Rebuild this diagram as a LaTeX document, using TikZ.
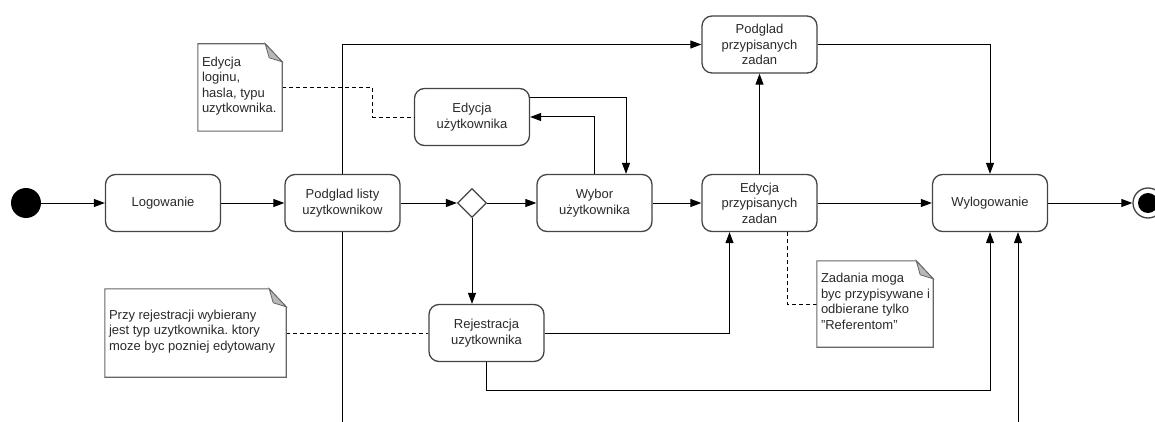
\documentclass[tikz,border=0pt]{standalone}
\usepackage{fontspec}
\setmainfont{Liberation Sans}
\usetikzlibrary{arrows.meta,shapes.geometric,calc}
\frenchspacing

\definecolor{boxline}{HTML}{444444}
\definecolor{noteline}{HTML}{666666}
\definecolor{notefold}{HTML}{B8B8B8}
\definecolor{txt}{HTML}{2A2A2A}

\tikzset{
  state/.style={draw=boxline, line width=1.3pt, rounded corners=10pt, fill=white,
    minimum width=115pt, minimum height=57pt, align=center, text=txt,
    inner sep=2pt, font=\fontsize{13}{15.5}\selectfont},
  choice/.style={draw=boxline, line width=1.2pt, diamond, fill=white,
    minimum width=29pt, minimum height=29pt, inner sep=0pt},
  notebox/.style={inner sep=0pt},
  notetext/.style={anchor=west, inner xsep=4pt, inner ysep=0pt, align=left,
    text=txt, font=\fontsize{13}{15.5}\selectfont},
  flow/.style={draw=black, line width=1pt, -{Triangle[length=11pt,width=8pt]}},
  wire/.style={draw=black, line width=1pt},
  anchorline/.style={draw=black, line width=0.9pt, dash pattern=on 4pt off 3pt},
  initial/.style={circle, fill=black, minimum size=30pt, inner sep=0pt},
}

% outline of a UML note with a folded top-right corner
\newcommand\foldnote[1]{%
  \draw[noteline, line width=1.1pt, fill=white]
    (#1.south west) -- (#1.north west) -- ([xshift=-17pt]#1.north east)
    -- ([yshift=-18pt]#1.north east) -- (#1.south east) -- cycle;
  \draw[noteline, line width=0.8pt, fill=notefold]
    ([xshift=-17pt]#1.north east) -- ([xshift=-13pt,yshift=-14pt]#1.north east)
    -- ([yshift=-18pt]#1.north east) -- cycle;
}

\begin{document}
\begin{tikzpicture}[x=1pt, y=-1pt]
\useasboundingbox (0,0) rectangle (1155,422);
\clip (0,0) rectangle (1155,422);

% states
\node[initial] (start) at (26,203) {};
\node[state] (log)   at (163,203)   {Logowanie};
\node[state] (plist) at (342.5,203) {Podglad listy\\uzytkownikow};
\node[choice] (dia)  at (472,203)   {};
\node[state] (wyb)   at (594.5,203) {Wybor\\użytkownika};
\node[state] (edu)   at (472,117)   {Edycja\\użytkownika};
\node[state] (ppz)   at (759.5,44.5){Podglad\\przypisanych\\zadan};
\node[state] (epz)   at (759.5,203) {Edycja\\przypisanych\\zadan};
\node[state] (wyl)   at (990,203)   {Wylogowanie};
\node[state] (rej)   at (486.5,333) {Rejestracja\\uzytkownika};

% final state
\node[circle, draw=boxline, line width=1.3pt, fill=white, minimum size=30pt, inner sep=0pt] (end) at (1148,203) {};
\fill[black] (end.center) circle (10pt);

% note frames
\node[notebox, minimum width=84pt, minimum height=87pt] (n1) at (240,87.5) {};
\node[notebox, minimum width=116pt, minimum height=86pt] (n2) at (875,304) {};
\node[notebox, minimum width=181pt, minimum height=88pt] (n3) at (195.5,333) {};

% loose ends of connectors leaving the frame
\coordinate (plistdown) at (342.5,422);
\coordinate (wylup) at (1018,422);

% main flow
\draw[flow] (start) -- (log);
\draw[flow] (log) -- (plist);
\draw[flow] (plist) -- (dia);
\draw[flow] (dia) -- (wyb);
\draw[flow] (wyb) -- (epz);
\draw[flow] (epz) -- (wyl);
\draw[flow] (wyl) -- (end);

% branches
\draw[flow] (plist.north) |- (ppz.west);
\draw[flow] (ppz.east) -| (wyl.north);
\draw[flow] (epz.north) -- (ppz.south);
\draw[flow] (wyb.north) |- (edu.east);
\draw[flow] ([yshift=19pt]edu.east) -| ([xshift=31.5pt]wyb.north);
\draw[flow] (dia.south) -- (dia.south |- rej.north);
\draw[flow] (rej.east) -| ([xshift=-30pt]epz.south);
\draw[flow] (rej.south) -- ++(0,28) -| (wyl.south);
\draw[wire] (plist.south) -- (plistdown);
\draw[flow] (wylup) -- ([xshift=28pt]wyl.south);

% note anchors
\draw[anchorline] (n1.east) -- ++(90,0) |- (edu.west);
\draw[anchorline] ([xshift=27.5pt]epz.south) |- (n2.west);
\draw[anchorline] (n3.east) -- (rej.west);

% notes
\foldnote{n1}
\foldnote{n2}
\foldnote{n3}
\node[notetext] (t1) at ([yshift=1.5pt]n1.west) {Edycja\\loginu,\\hasla, typu\\uzytkownika.};
\node[notetext] (t2) at ([yshift=2.5pt]n2.west) {Zadania moga\\byc przypisywane i\\odbierane tylko\\"Referentom"};
\node[notetext] (t3) at ([yshift=1.5pt]n3.west) {Przy rejestracji wybierany\\jest typ uzytkownika. ktory\\moze byc pozniej edytowany};
\end{tikzpicture}
\end{document}
